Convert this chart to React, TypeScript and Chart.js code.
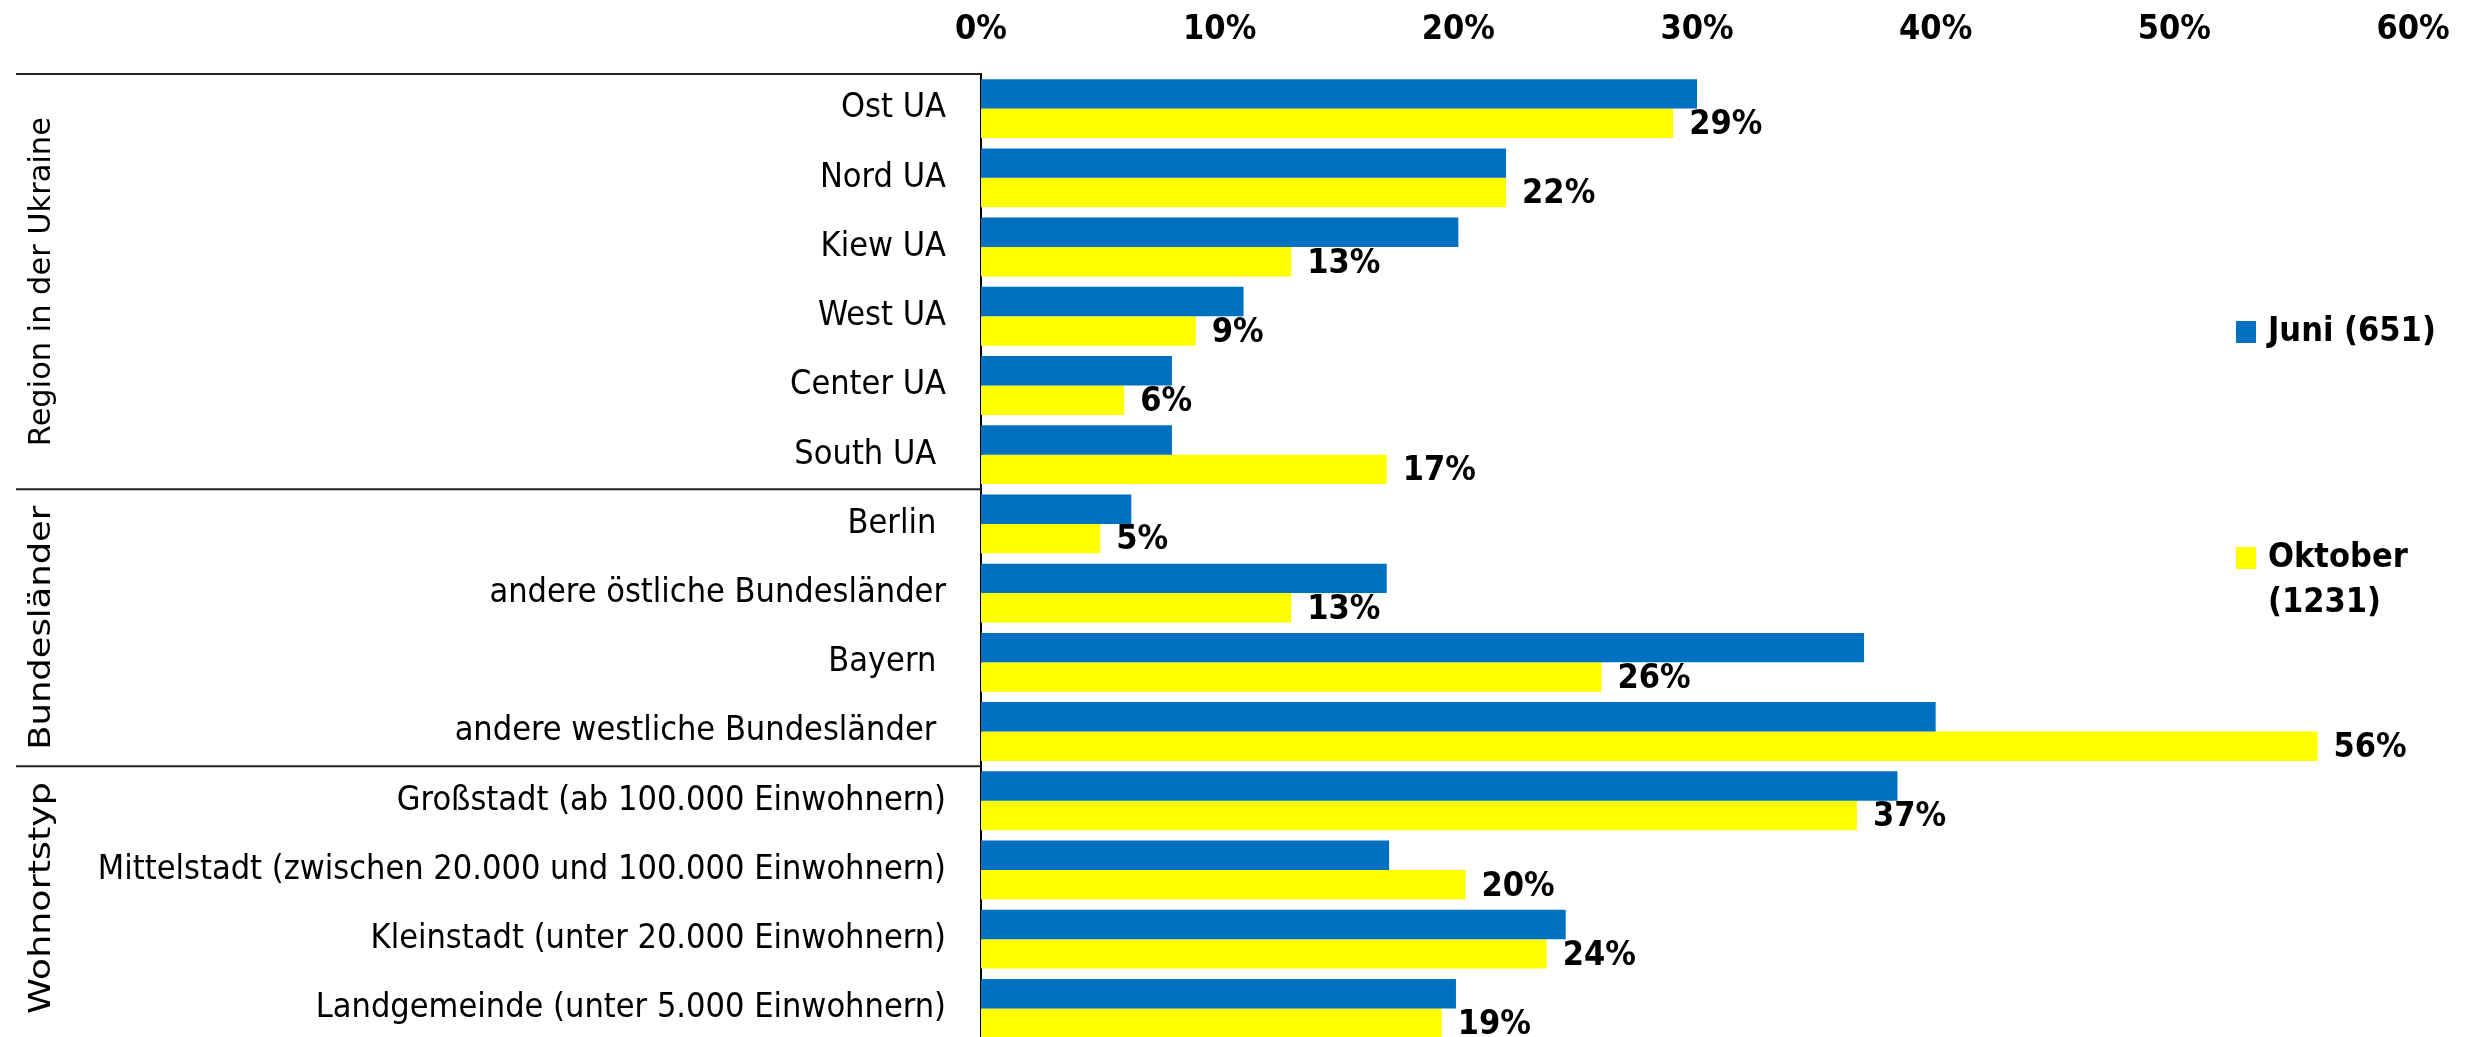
import React, { useEffect, useRef } from "react";
import { Chart, registerables } from "chart.js";

Chart.register(...registerables);

const categories = [
  "Ost UA",
  "Nord UA",
  "Kiew UA",
  "West UA",
  "Center UA",
  "South UA ",
  "Berlin ",
  "andere östliche Bundesländer",
  "Bayern ",
  "andere westliche Bundesländer ",
  "Großstadt (ab 100.000 Einwohnern)",
  "Mittelstadt (zwischen 20.000 und 100.000 Einwohnern)",
  "Kleinstadt (unter 20.000 Einwohnern)",
  "Landgemeinde (unter 5.000 Einwohnern)",
];

const juniValues = [30, 22, 20, 11, 8, 8, 6.3, 17, 37, 40, 38.4, 17.1, 24.5, 19.9];
const oktoberValues = [29, 22, 13, 9, 6, 17, 5, 13, 26, 56, 36.7, 20.3, 23.7, 19.3];

const seriesNames = ["Juni (651)", "Oktober (1231)"];
const legendLines = [["Juni (651)"], ["Oktober", "(1231)"]];

const groups = [
  { title: "Region in der Ukraine", start: 0, count: 6 },
  { title: "Bundesländer", start: 6, count: 4 },
  { title: "Wohnortstyp", start: 10, count: 4 },
];

const xTicks = [0, 10, 20, 30, 40, 50, 60];

const BLUE = "#0070C0";
const YELLOW = "#FFFF00";
const FONT = "'Liberation Sans Narrow', 'DejaVu Sans Condensed', 'Open Sans', sans-serif";
const TITLE_FONT = "'DejaVu Sans', Verdana, sans-serif";
// visual lengths of the rotated group titles (style only)
const titleLengths = [329, 244, 232];

const decorPlugin = {
  id: "decor",
  afterDraw(chart: any) {
    const ctx = chart.ctx;
    const area = chart.chartArea;
    const n = categories.length;
    const band = (area.bottom - area.top) / n;
    ctx.save();
    // group separators
    ctx.strokeStyle = "#222";
    ctx.lineWidth = 2;
    for (const g of groups) {
      const y = area.top + g.start * band;
      ctx.beginPath();
      ctx.moveTo(16, y);
      ctx.lineTo(area.left, y);
      ctx.stroke();
    }
    // group titles
    ctx.fillStyle = "#000";
    ctx.font = `31px ${TITLE_FONT}`;
    ctx.textAlign = "center";
    ctx.textBaseline = "middle";
    groups.forEach((g, gi) => {
      const y0 = area.top + g.start * band;
      const y1 = Math.min(area.top + (g.start + g.count) * band, 1030);
      const w = ctx.measureText(g.title).width;
      ctx.save();
      ctx.translate(42, (y0 + y1) / 2);
      ctx.rotate(-Math.PI / 2);
      ctx.scale(titleLengths[gi] / w, 1);
      ctx.fillText(g.title, 0, 0);
      ctx.restore();
    });
    // data labels for Oktober
    const meta = chart.getDatasetMeta(1);
    ctx.font = `bold 34px ${FONT}`;
    ctx.textAlign = "left";
    ctx.textBaseline = "middle";
    meta.data.forEach((el: any, i: number) => {
      const v = oktoberValues[i];
      ctx.fillText(Math.round(v) + "%", el.x + 16, el.y + 2);
    });
    // legend
    const colors = [BLUE, YELLOW];
    const legendY = [332, 558];
    ctx.font = `bold 34px ${FONT}`;
    legendLines.forEach((lines, i) => {
      ctx.fillStyle = colors[i];
      ctx.fillRect(2236, legendY[i] - 11, 20, 22);
      ctx.fillStyle = "#000";
      lines.forEach((t, j) => {
        ctx.fillText(t, 2268, legendY[i] + j * 45);
      });
    });
    ctx.restore();
  },
};

export default function App() {
  const ref = useRef<HTMLCanvasElement>(null);
  useEffect(() => {
    document.body.style.margin = "0";
    document.body.style.overflow = "hidden";
    const chart = new Chart(ref.current!, {
      type: "bar",
      data: {
        labels: categories,
        datasets: [
          {
            label: seriesNames[0],
            data: juniValues,
            backgroundColor: BLUE,
            barPercentage: 1,
            categoryPercentage: 0.85,
          },
          {
            label: seriesNames[1],
            data: oktoberValues,
            backgroundColor: YELLOW,
            barPercentage: 1,
            categoryPercentage: 0.85,
          },
        ],
      },
      options: {
        indexAxis: "y",
        animation: false,
        responsive: false,
        maintainAspectRatio: false,
        layout: { padding: { left: 0, right: 57, top: 0, bottom: 0 } },
        plugins: {
          legend: { display: false },
          tooltip: { enabled: false },
        },
        scales: {
          x: {
            position: "top",
            min: 0,
            max: 60,
            afterBuildTicks: (scale: any) => {
              scale.ticks = xTicks.map((v) => ({ value: v }));
            },
            afterFit: (scale: any) => {
              scale.height = 74;
              scale.paddingLeft = 0;
              scale.paddingRight = 0;
            },
            grid: { display: false },
            border: { display: false },
            ticks: {
              color: "#000",
              font: { family: FONT, size: 34, weight: "bold" },
              padding: 15,
              maxRotation: 0,
              callback: (v: any) => v + "%",
            },
          },
          y: {
            afterFit: (scale: any) => {
              scale.width = 981;
              scale.paddingTop = 0;
              scale.paddingBottom = 0;
            },
            grid: { display: false },
            border: { display: true, color: "#000", width: 2 },
            ticks: {
              color: "#000",
              font: { family: FONT, size: 34 },
              padding: 27,
            },
          },
        },
      },
      plugins: [decorPlugin],
    } as any);
    return () => chart.destroy();
  }, []);
  return <canvas ref={ref} width={2470} height={1043} style={{ display: "block" }} />;
}
